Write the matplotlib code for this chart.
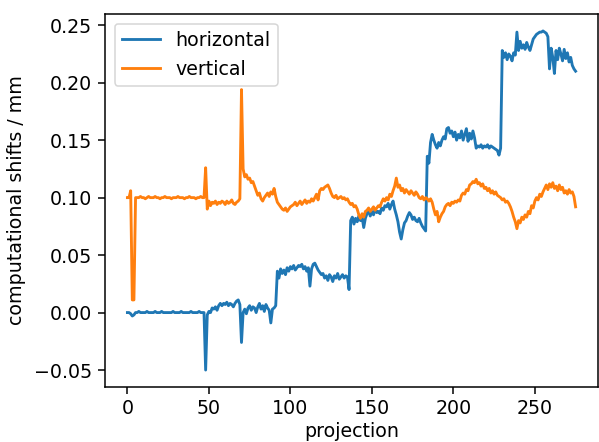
import matplotlib
matplotlib.use('Agg')
import matplotlib.pyplot as plt

# computed shift per projection, in mm
horizontal = [
    0.000, 0.000, -0.001, -0.003, -0.002, 0.000, 0.000, 0.001, 0.000, 0.000,
    0.000, 0.000, 0.001, 0.000, 0.000, 0.000, 0.000, 0.001, 0.000, 0.000,
    0.000, 0.001, 0.000, 0.000, 0.000, 0.000, 0.000, 0.000, 0.001, 0.000,
    0.000, 0.000, 0.000, 0.001, 0.000, 0.000, 0.000, 0.000, 0.000, 0.001,
    0.000, 0.000, 0.000, 0.000, 0.001, 0.000, 0.000, 0.000,
    -0.050, -0.002,
    0.001, 0.000, 0.004, 0.003, 0.005, 0.002, 0.006, 0.008, 0.006, 0.008,
    0.007, 0.009, 0.006, 0.008, 0.007, 0.005, 0.008, 0.010, 0.011, 0.007,
    -0.026, 0.000,
    0.003, -0.001, 0.004, 0.006, 0.002, 0.005, 0.004, 0.000,
    0.005, 0.008, 0.003, 0.006, 0.001, 0.007, 0.004, 0.002, -0.009, 0.003, 0.004, 0.006,
    0.036, 0.030, 0.038, 0.034, 0.037, 0.033, 0.039, 0.036,
    0.040, 0.038, 0.041, 0.037, 0.039, 0.041, 0.040, 0.042, 0.038, 0.040, 0.036, 0.039,
    0.023, 0.038, 0.042, 0.043, 0.040, 0.037, 0.035, 0.033,
    0.034, 0.030, 0.032, 0.028, 0.033, 0.031, 0.027, 0.032, 0.030, 0.034,
    0.029, 0.031, 0.033, 0.030, 0.032, 0.031, 0.020,
    0.080, 0.083, 0.077, 0.082, 0.079, 0.084, 0.080, 0.083, 0.074, 0.082,
    0.086, 0.089, 0.084, 0.088, 0.085, 0.090, 0.087, 0.088, 0.086,
    0.091, 0.089, 0.093, 0.092, 0.095, 0.090, 0.094, 0.097,
    0.090, 0.085, 0.079, 0.070, 0.064, 0.072, 0.078,
    0.080, 0.084, 0.087, 0.085, 0.081, 0.083, 0.080, 0.079, 0.082, 0.078, 0.075, 0.073, 0.071,
    0.136, 0.130, 0.148, 0.155, 0.150, 0.146, 0.143, 0.148, 0.145, 0.150,
    0.153, 0.151, 0.160, 0.161, 0.156, 0.158,
    0.153, 0.157, 0.150, 0.155, 0.152, 0.158, 0.150, 0.155, 0.160, 0.149,
    0.156, 0.151, 0.158, 0.152, 0.143,
    0.145, 0.144, 0.146, 0.143, 0.145, 0.144, 0.146, 0.143, 0.145, 0.144,
    0.143, 0.142, 0.141, 0.137, 0.143,
    0.228, 0.222, 0.226, 0.220, 0.225, 0.223, 0.219, 0.226, 0.224, 0.244,
    0.228, 0.236, 0.230, 0.233, 0.229, 0.235, 0.231, 0.228, 0.233, 0.238,
    0.240, 0.242, 0.243, 0.244, 0.244, 0.245, 0.244, 0.243, 0.240, 0.212,
    0.230, 0.222, 0.208, 0.228, 0.220, 0.230, 0.225, 0.219, 0.229, 0.221,
    0.226, 0.218, 0.222, 0.215, 0.212, 0.210,
]

vertical = [
    0.100, 0.100, 0.106, 0.011, 0.011, 0.100,
    0.100, 0.100, 0.101, 0.100, 0.100, 0.099, 0.100, 0.101, 0.100, 0.100,
    0.100, 0.101, 0.100, 0.100, 0.099, 0.100, 0.100, 0.101, 0.100, 0.100,
    0.100, 0.099, 0.100, 0.100, 0.100, 0.101, 0.100, 0.100, 0.100, 0.099,
    0.100, 0.100, 0.101, 0.100, 0.100, 0.100, 0.099, 0.100, 0.100, 0.101, 0.100, 0.100,
    0.126, 0.090, 0.097, 0.093, 0.096,
    0.095, 0.097, 0.094, 0.096, 0.095, 0.097, 0.096, 0.094, 0.097, 0.095,
    0.096, 0.098, 0.095, 0.094, 0.096, 0.097, 0.099,
    0.194, 0.125, 0.118, 0.120, 0.116, 0.117, 0.113, 0.114, 0.110,
    0.106, 0.102, 0.104, 0.099, 0.097, 0.100,
    0.102, 0.104, 0.101, 0.105, 0.103, 0.108, 0.101,
    0.096, 0.094, 0.092, 0.090, 0.089, 0.091, 0.088, 0.090, 0.092, 0.093,
    0.094, 0.096, 0.093, 0.095, 0.097, 0.094, 0.096, 0.098,
    0.095, 0.097, 0.096, 0.099, 0.097, 0.100, 0.103, 0.098,
    0.106, 0.108, 0.107, 0.109, 0.110, 0.111, 0.108, 0.104,
    0.101, 0.100, 0.102, 0.099, 0.100, 0.101, 0.099, 0.100, 0.098, 0.099,
    0.096, 0.094, 0.095, 0.092, 0.093, 0.090,
    0.085, 0.082, 0.086, 0.083, 0.088,
    0.089, 0.091, 0.088, 0.090, 0.092, 0.089, 0.091, 0.093, 0.092,
    0.096, 0.099, 0.097, 0.100, 0.098, 0.103, 0.101, 0.106, 0.110,
    0.117, 0.109, 0.111,
    0.106, 0.108, 0.104, 0.107, 0.105, 0.103, 0.106, 0.104, 0.102, 0.105, 0.103,
    0.100, 0.099, 0.101, 0.098, 0.100, 0.099, 0.097, 0.099, 0.096,
    0.090, 0.085, 0.088, 0.079, 0.083, 0.086, 0.088,
    0.092, 0.094, 0.095, 0.093, 0.096, 0.095, 0.097, 0.096, 0.098, 0.097,
    0.102, 0.104, 0.103, 0.107, 0.106, 0.111, 0.112, 0.114, 0.113, 0.116, 0.112,
    0.113, 0.110, 0.112, 0.108, 0.109, 0.106, 0.108, 0.104, 0.106, 0.103,
    0.105, 0.102, 0.101,
    0.100, 0.098, 0.099, 0.096, 0.097, 0.095, 0.092,
    0.088, 0.083, 0.079, 0.073, 0.080,
    0.078, 0.083, 0.081, 0.085, 0.083, 0.088, 0.086,
    0.093, 0.091, 0.097, 0.100, 0.098, 0.103, 0.101, 0.105, 0.108,
    0.111, 0.107, 0.112, 0.109, 0.113, 0.108, 0.110, 0.106, 0.111, 0.107,
    0.109, 0.104, 0.106, 0.103, 0.107, 0.104,
    0.105, 0.101, 0.092,
]

assert len(horizontal) == len(vertical) == 276, (len(horizontal), len(vertical))
projection = list(range(len(horizontal)))

# everything scaled up from the defaults
s = 1.37
plt.rcParams.update({
    'font.size': 10 * s,
    'axes.linewidth': 0.8 * s,
    'xtick.major.size': 3.5 * s,
    'ytick.major.size': 3.5 * s,
    'xtick.major.width': 0.8 * s,
    'ytick.major.width': 0.8 * s,
    'xtick.major.pad': 3.5 * s - 0.8,
    'ytick.major.pad': 3.5 * s,
    'axes.labelpad': 4.0 * s,
})

fig = plt.figure(figsize=(5.99, 4.42), dpi=100)
ax = fig.add_axes([105 / 599, 1 - 387 / 442, 493 / 599, 373 / 442])
ax.plot(projection, horizontal, label='horizontal', linewidth=1.5 * s)
ax.plot(projection, vertical, label='vertical', linewidth=1.5 * s)
ax.set_xlabel('projection', labelpad=2.5)
ax.set_ylabel('computational shifts / mm')
leg = ax.legend(loc='upper left')
leg.get_frame().set_linewidth(0.8 * s)

fig.savefig('out.png', dpi=100)
